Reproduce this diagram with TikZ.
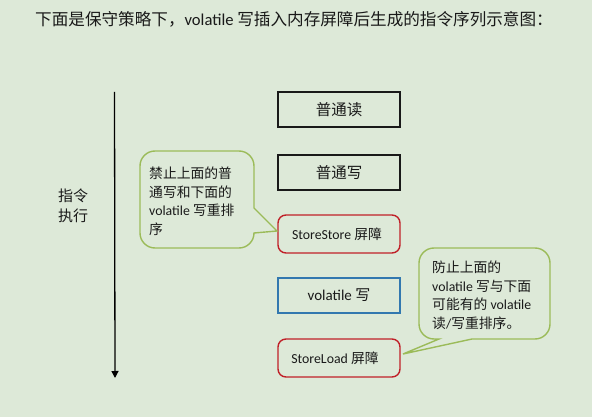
\documentclass[tikz,border=0pt]{standalone}
\usepackage{fontspec}
\setmainfont{Carlito}
\newfontfamily\cjk{Noto Sans CJK SC}
\usetikzlibrary{arrows.meta}
\definecolor{bgc}{RGB}{221,233,216}
\definecolor{redc}{RGB}{192,32,40}
\definecolor{bluec}{RGB}{50,120,175}
\definecolor{greenc}{RGB}{155,187,89}
\definecolor{txt}{RGB}{25,25,25}
\tikzset{
  box/.style={draw=black!90, line width=1.4pt, minimum width=122pt, inner sep=0pt, text=txt},
  redbox/.style={box, draw=redc, rounded corners=8pt},
  bluebox/.style={box, draw=bluec},
  callout/.style={draw=greenc, line width=1.4pt, fill=bgc},
  calltext/.style={anchor=north west, inner sep=0pt, align=left, text=txt, font=\fontsize{13.8}{18.8}\selectfont},
  flow/.style={line width=1.3pt, draw=black, -{Triangle[length=7pt,width=7pt]}}
}
\begin{document}
\begin{tikzpicture}[x=1pt,y=-1pt]
\fill[bgc] (0,0) rectangle (592,417);
\useasboundingbox (0,0) rectangle (592,417);

\node[anchor=west, inner sep=0pt, text=txt, font=\fontsize{16.6}{18}\selectfont] (title) at (35,19)
  {{\cjk 下面是保守策略下，}volatile {\cjk 写插入内存屏障后生成的指令序列示意图：}};

% time arrow
\coordinate (atop) at (114.5,92);
\coordinate (abot) at (115,378);
\draw[flow] (atop) -- (abot);
\node[inner sep=0pt, align=center, text=txt, font=\cjk\fontsize{15}{20.5}\selectfont] (exec) at (73,206) {指令\\执行};

% boxes
\node[box, minimum height=35pt, font=\cjk\fontsize{15.5}{18}\selectfont] (r) at (339,109.5) {普通读};
\node[box, minimum height=35pt, font=\cjk\fontsize{15.5}{18}\selectfont] (w) at (339,172.5) {普通写};
\node[redbox, minimum height=38pt, font=\fontsize{13.8}{16}\selectfont] (ss) at (339,234) {\hspace*{-4pt}StoreStore {\cjk 屏障}};
\node[bluebox, minimum height=35pt, font=\fontsize{15}{18}\selectfont] (vw) at (339,295.5) {volatile {\cjk 写}};
\node[redbox, minimum height=38pt, font=\fontsize{13.8}{16}\selectfont] (sl) at (339,358) {\hspace*{-8pt}StoreLoad {\cjk 屏障}};

% callout 1
\draw[callout] (155,151) -- (239,151) arc[start angle=-90,end angle=0,radius=15]
  -- (254,208) -- (277,231) -- (254,233) arc[start angle=0,end angle=90,radius=15]
  -- (155,248) arc[start angle=90,end angle=180,radius=15]
  -- (140,166) arc[start angle=180,end angle=270,radius=15] -- cycle;
\node[calltext] (c1) at (149,166.5)
  {{\cjk 禁止上面的普}\\{\cjk 通写和下面的}\\volatile {\cjk 写重排}\\{\cjk 序}};

% callout 2
\draw[callout] (434,248) -- (535,248) arc[start angle=-90,end angle=0,radius=15]
  -- (550,324) arc[start angle=0,end angle=90,radius=15]
  -- (472,339) -- (403,354) -- (439,339) -- (434,339)
  arc[start angle=90,end angle=180,radius=15]
  -- (419,263) arc[start angle=180,end angle=270,radius=15] -- cycle;
\node[calltext] (c2) at (432,260.5)
  {{\cjk 防止上面的}\\volatile {\cjk 写与下面}\\{\cjk 可能有的} volatile\\{\cjk 读}/{\cjk 写重排序。}};
\end{tikzpicture}
\end{document}
